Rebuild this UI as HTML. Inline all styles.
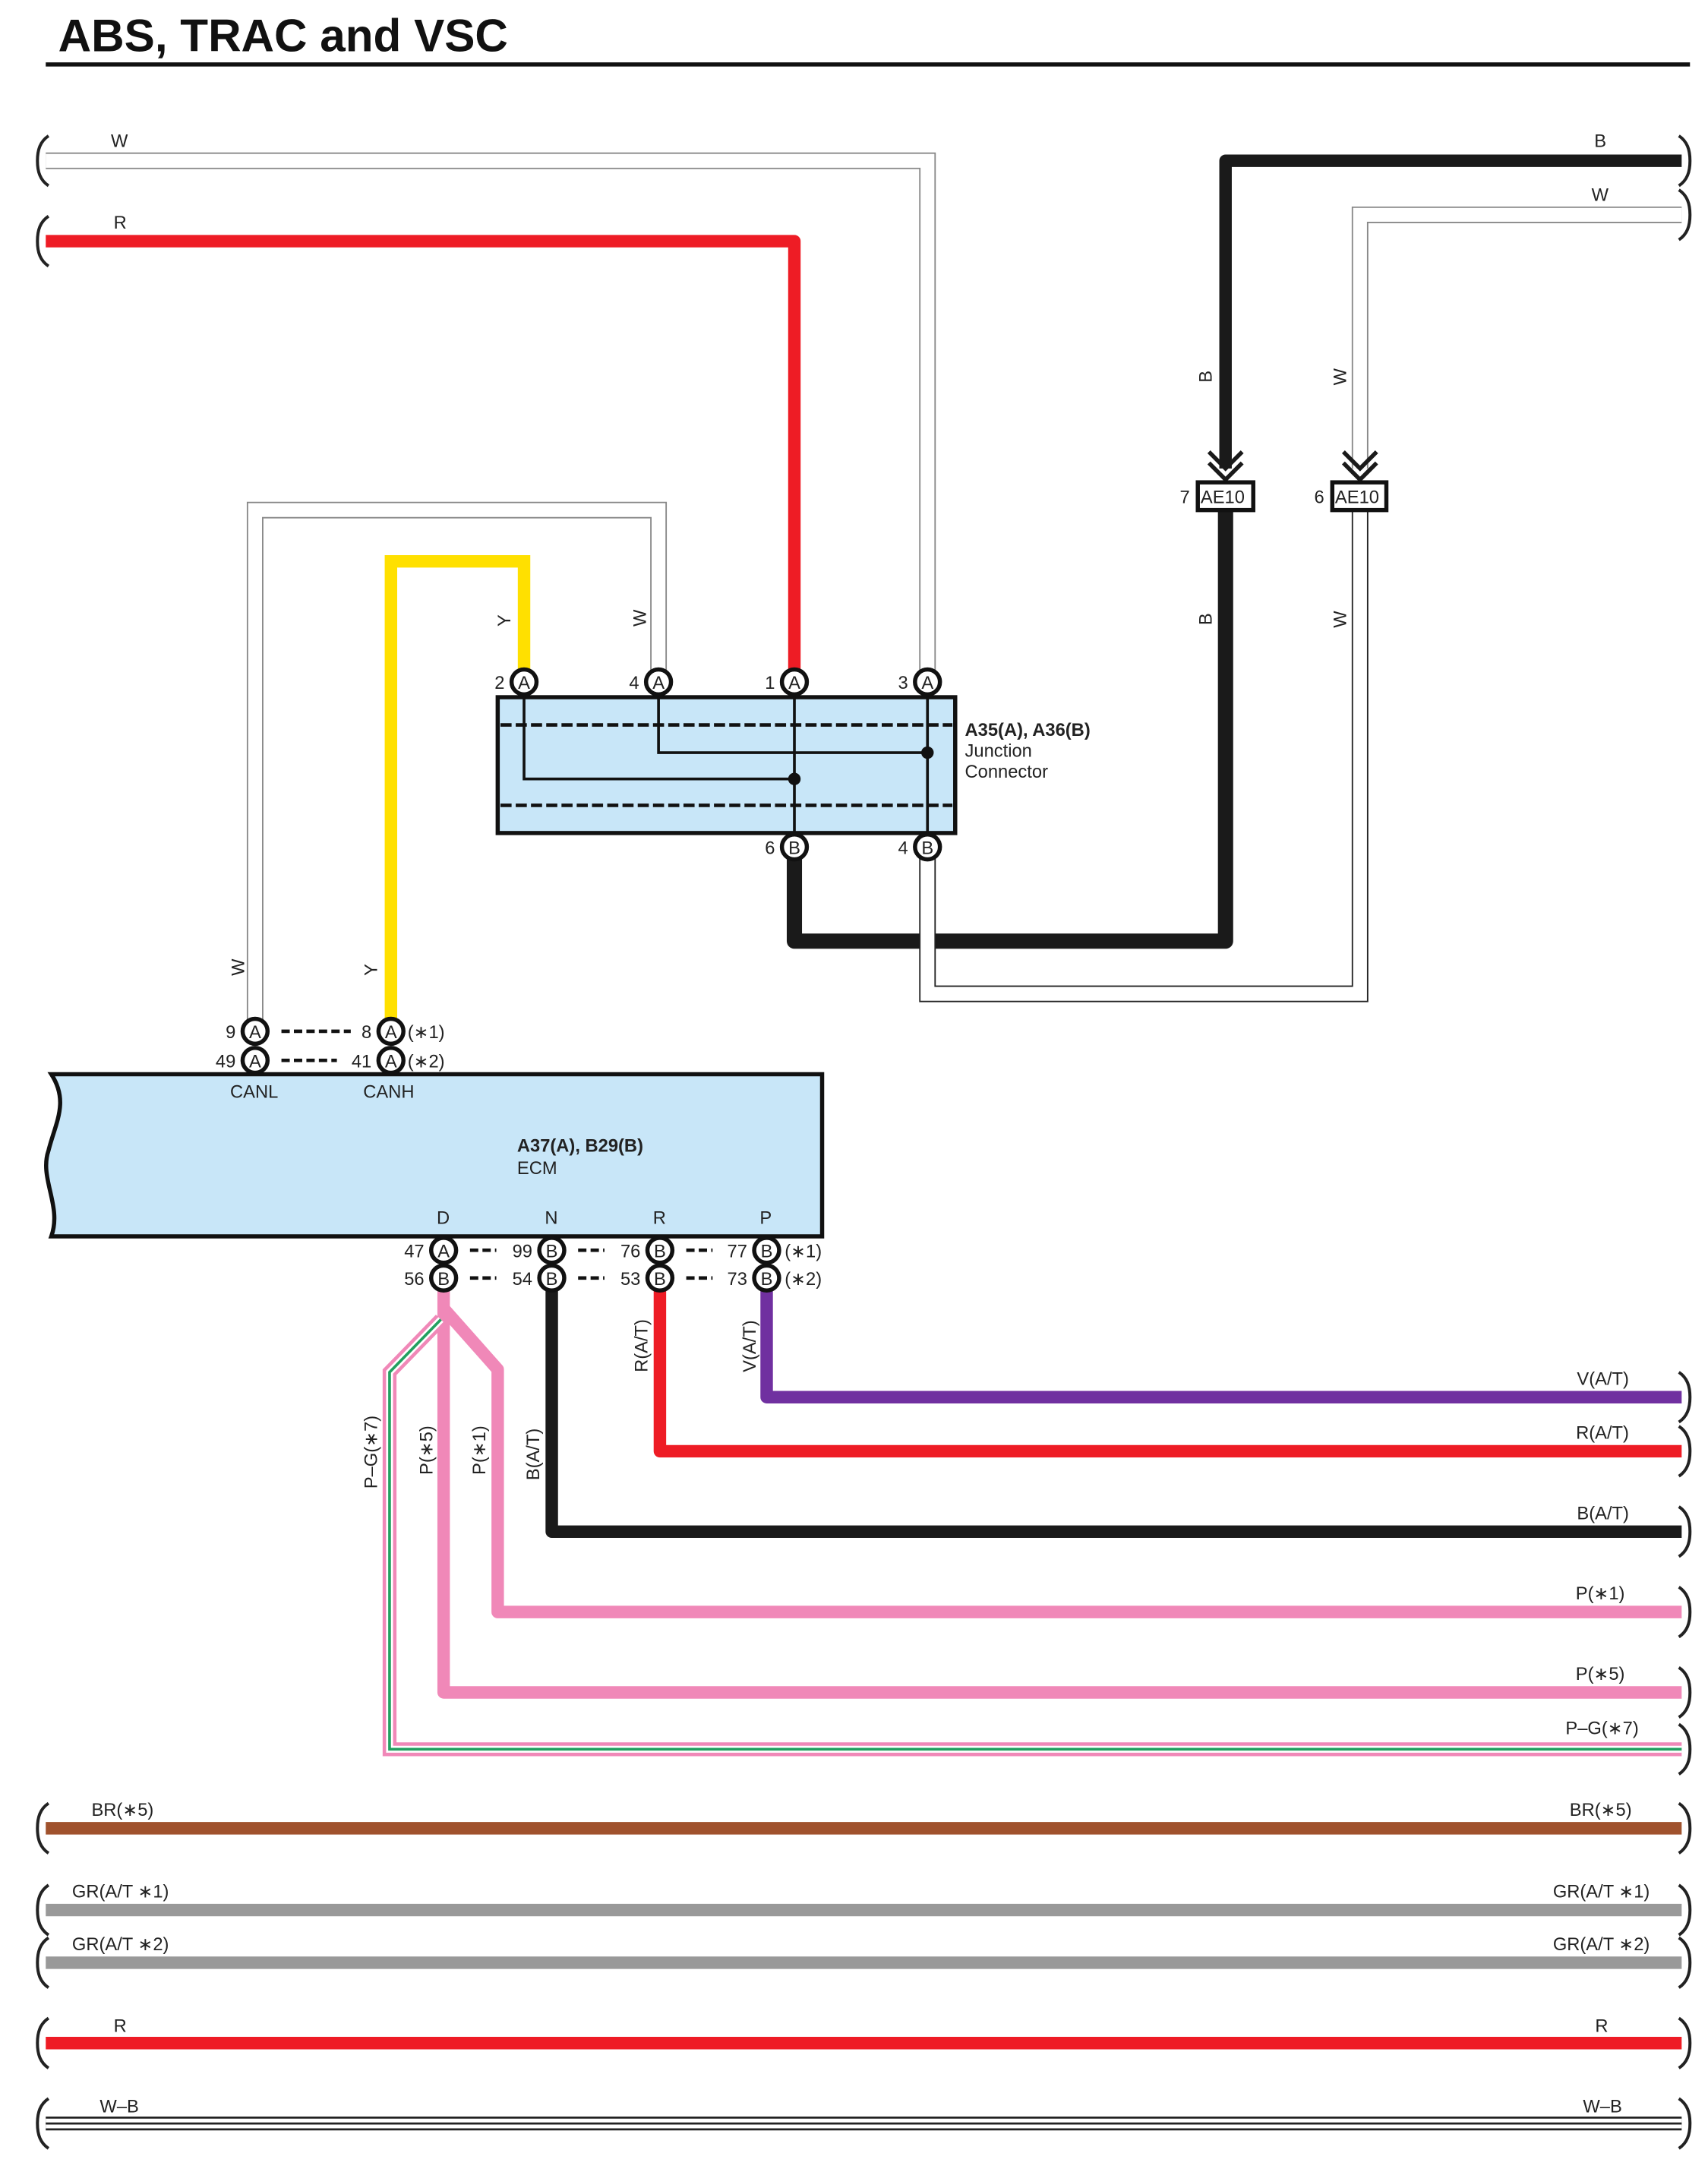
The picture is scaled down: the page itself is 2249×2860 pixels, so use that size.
<!DOCTYPE html>
<html><head><meta charset="utf-8"><style>
html,body{margin:0;padding:0;background:#fff;}
svg{display:block;}
text{font-family:"Liberation Sans",sans-serif;font-size:13px;fill:#222;}
</style></head><body>
<svg width="2249" height="2860" viewBox="0 0 1232 1567" preserveAspectRatio="none" xmlns="http://www.w3.org/2000/svg">
<defs>
<g id="bl"><path d="M2,-18 C-4,-14 -6,-8 -6,0 C-6,8 -4,14 2,18" fill="none" stroke="#222" stroke-width="2.2"/></g>
<g id="br"><path d="M-2,-18 C4,-14 6,-8 6,0 C6,8 4,14 -2,18" fill="none" stroke="#222" stroke-width="2.2"/></g>
</defs>
<text x="42" y="37" style="font-size:33px;font-weight:bold;fill:#111">ABS, TRAC and VSC</text>
<rect x="33" y="45" width="1186" height="3" fill="#111"/>

<path d="M33,116 H669 V492" fill="none" stroke="#888" stroke-width="12"/>
<path d="M33,116 H669 V492" fill="none" stroke="#fff" stroke-width="10"/>
<text x="80" y="106">W</text>
<use href="#bl" x="33" y="116"/>
<path d="M33,174 H573 V492" fill="none" stroke="#ee1c25" stroke-width="9" stroke-linejoin="round"/>
<text x="82" y="165">R</text>
<use href="#bl" x="33" y="174"/>

<path d="M1213,116 H884 V338" fill="none" stroke="#1a1a1a" stroke-width="9" stroke-linejoin="round"/>
<text x="1150" y="106">B</text>
<use href="#br" x="1213" y="116"/>
<path d="M872,326 L884,338 L896,326 M872,334 L884,346 L896,334" fill="none" stroke="#1a1a1a" stroke-width="3"/>
<path d="M1213,155 H981 V338" fill="none" stroke="#888" stroke-width="12"/>
<path d="M1213,155 H981 V338" fill="none" stroke="#fff" stroke-width="10"/>
<text x="1148" y="145">W</text>
<use href="#br" x="1213" y="155"/>
<path d="M969,326 L981,338 L993,326 M969,334 L981,346 L993,334" fill="none" stroke="#1a1a1a" stroke-width="3"/>
<text transform="translate(874,276) rotate(-90)">B</text>
<text transform="translate(971,278) rotate(-90)">W</text>
<text transform="translate(874,451) rotate(-90)">B</text>
<text transform="translate(971,453) rotate(-90)">W</text>

<path d="M884,368 V679 H573 V611" fill="none" stroke="#1a1a1a" stroke-width="11" stroke-linejoin="round"/>
<path d="M981,368 V717 H669 V611" fill="none" stroke="#222" stroke-width="12"/>
<path d="M981,368 V717 H669 V611" fill="none" stroke="#fff" stroke-width="10"/>
<rect x="864" y="348" width="40" height="20" fill="#fff" stroke="#111" stroke-width="3"/>
<text x="866" y="363">AE10</text><text x="851" y="363">7</text>
<rect x="961" y="348" width="39" height="20" fill="#fff" stroke="#111" stroke-width="3"/>
<text x="963" y="363">AE10</text><text x="948" y="363">6</text>

<path d="M475,492 V368 H184 V744" fill="none" stroke="#888" stroke-width="12"/>
<path d="M475,492 V368 H184 V744" fill="none" stroke="#fff" stroke-width="10"/>
<path d="M378,492 V405 H282 V744" fill="none" stroke="#ffe000" stroke-width="9"/>
<text transform="translate(368,452) rotate(-90)">Y</text>
<text transform="translate(466,452) rotate(-90)">W</text>
<text transform="translate(176,704) rotate(-90)">W</text>
<text transform="translate(272,704) rotate(-90)">Y</text>

<rect x="359" y="503" width="330" height="98" fill="#c8e6f8" stroke="#111" stroke-width="3"/>
<line x1="361" y1="523" x2="687" y2="523" stroke="#111" stroke-width="2.5" stroke-dasharray="8,3"/>
<line x1="361" y1="581" x2="687" y2="581" stroke="#111" stroke-width="2.5" stroke-dasharray="8,3"/>
<path d="M378,503 V562 H573 M475,503 V543 H669 M573,503 V601 M669,503 V601" fill="none" stroke="#111" stroke-width="2"/>
<circle cx="573" cy="562" r="4.5" fill="#111"/><circle cx="669" cy="543" r="4.5" fill="#111"/>
<text x="696" y="531" style="font-weight:bold">A35(A), A36(B)</text>
<text x="696" y="546">Junction</text>
<text x="696" y="561">Connector</text>

<path d="M37,775 H593 V892 H37 C45,870 28,850 35,830 C40,810 50,795 37,775 Z" fill="#c8e6f8" stroke="#111" stroke-width="3"/>
<text x="166" y="792">CANL</text><text x="262" y="792">CANH</text>
<text x="373" y="831" style="font-weight:bold">A37(A), B29(B)</text>
<text x="373" y="847">ECM</text>
<text x="315" y="883">D</text><text x="393" y="883">N</text><text x="471" y="883">R</text><text x="548" y="883">P</text>

<path d="M553,922 V1008 H1213" fill="none" stroke="#7030a0" stroke-width="9" stroke-linejoin="round"/>
<path d="M476,922 V1047 H1213" fill="none" stroke="#ee1c25" stroke-width="9" stroke-linejoin="round"/>
<path d="M398,922 V1105 H1213" fill="none" stroke="#1a1a1a" stroke-width="9" stroke-linejoin="round"/>
<path d="M320,944 L359,988 V1163 H1213" fill="none" stroke="#f088b8" stroke-width="9" stroke-linejoin="round"/>
<path d="M320,922 V1221 H1213" fill="none" stroke="#f088b8" stroke-width="9" stroke-linejoin="round"/>
<path d="M318,952 L281,990 V1262 H1213" fill="none" stroke="#f088b8" stroke-width="10"/>
<path d="M318,952 L281,990 V1262 H1213" fill="none" stroke="#fff" stroke-width="5"/>
<path d="M318,952 L281,990 V1262 H1213" fill="none" stroke="#22a060" stroke-width="2"/>
<text transform="translate(467,990) rotate(-90)">R(A/T)</text>
<text transform="translate(545,990) rotate(-90)">V(A/T)</text>
<text transform="translate(272,1074) rotate(-90)">P–G(∗7)</text>
<text transform="translate(312,1064) rotate(-90)">P(∗5)</text>
<text transform="translate(350,1064) rotate(-90)">P(∗1)</text>
<text transform="translate(389,1068) rotate(-90)">B(A/T)</text>
<g text-anchor="end">
<text x="1175" y="999">V(A/T)</text>
<text x="1175" y="1038">R(A/T)</text>
<text x="1175" y="1096">B(A/T)</text>
<text x="1172" y="1154">P(∗1)</text>
<text x="1172" y="1212">P(∗5)</text>
<text x="1182" y="1251">P–G(∗7)</text>
<text x="1177" y="1310">BR(∗5)</text>
<text x="1190" y="1369">GR(A/T ∗1)</text>
<text x="1190" y="1407">GR(A/T ∗2)</text>
<text x="1160" y="1466">R</text>
<text x="1170" y="1524">W–B</text>
</g>
<use href="#br" x="1213" y="1008"/><use href="#br" x="1213" y="1047"/><use href="#br" x="1213" y="1105"/>
<use href="#br" x="1213" y="1163"/><use href="#br" x="1213" y="1221"/><use href="#br" x="1213" y="1262"/>

<line x1="33" y1="1319" x2="1213" y2="1319" stroke="#a0522d" stroke-width="9"/>
<line x1="33" y1="1378" x2="1213" y2="1378" stroke="#999" stroke-width="9"/>
<line x1="33" y1="1416" x2="1213" y2="1416" stroke="#999" stroke-width="9"/>
<line x1="33" y1="1474" x2="1213" y2="1474" stroke="#ee1c25" stroke-width="9"/>
<line x1="33" y1="1532" x2="1213" y2="1532" stroke="#222" stroke-width="10"/>
<line x1="33" y1="1532" x2="1213" y2="1532" stroke="#fff" stroke-width="7"/>
<line x1="33" y1="1532" x2="1213" y2="1532" stroke="#222" stroke-width="1.5"/>
<text x="66" y="1310">BR(∗5)</text>
<text x="52" y="1369">GR(A/T ∗1)</text>
<text x="52" y="1407">GR(A/T ∗2)</text>
<text x="82" y="1466">R</text>
<text x="72" y="1524">W–B</text>
<use href="#bl" x="33" y="1319"/><use href="#bl" x="33" y="1378"/><use href="#bl" x="33" y="1416"/><use href="#bl" x="33" y="1474"/><use href="#bl" x="33" y="1532"/>
<use href="#br" x="1213" y="1319"/><use href="#br" x="1213" y="1378"/><use href="#br" x="1213" y="1416"/><use href="#br" x="1213" y="1474"/><use href="#br" x="1213" y="1532"/>

<g stroke="#111" stroke-width="3" fill="#fff">
<circle cx="378" cy="492" r="9"/><circle cx="475" cy="492" r="9"/><circle cx="573" cy="492" r="9"/><circle cx="669" cy="492" r="9"/>
<circle cx="573" cy="611" r="9"/><circle cx="669" cy="611" r="9"/>
<circle cx="184" cy="744" r="9"/><circle cx="282" cy="744" r="9"/><circle cx="184" cy="765" r="9"/><circle cx="282" cy="765" r="9"/>
<circle cx="320" cy="902" r="9"/><circle cx="398" cy="902" r="9"/><circle cx="476" cy="902" r="9"/><circle cx="553" cy="902" r="9"/>
<circle cx="320" cy="922" r="9"/><circle cx="398" cy="922" r="9"/><circle cx="476" cy="922" r="9"/><circle cx="553" cy="922" r="9"/>
</g>
<g text-anchor="middle" style="font-size:12px">
<text x="378" y="497">A</text><text x="475" y="497">A</text><text x="573" y="497">A</text><text x="669" y="497">A</text>
<text x="573" y="616">B</text><text x="669" y="616">B</text>
<text x="184" y="749">A</text><text x="282" y="749">A</text><text x="184" y="770">A</text><text x="282" y="770">A</text>
<text x="320" y="907">A</text><text x="398" y="907">B</text><text x="476" y="907">B</text><text x="553" y="907">B</text>
<text x="320" y="927">B</text><text x="398" y="927">B</text><text x="476" y="927">B</text><text x="553" y="927">B</text>
</g>
<g text-anchor="end">
<text x="364" y="497">2</text><text x="461" y="497">4</text><text x="559" y="497">1</text><text x="655" y="497">3</text>
<text x="559" y="616">6</text><text x="655" y="616">4</text>
<text x="170" y="749">9</text><text x="268" y="749">8</text><text x="170" y="770">49</text><text x="268" y="770">41</text>
<text x="306" y="907">47</text><text x="384" y="907">99</text><text x="462" y="907">76</text><text x="539" y="907">77</text>
<text x="306" y="927">56</text><text x="384" y="927">54</text><text x="462" y="927">53</text><text x="539" y="927">73</text>
</g>
<text x="294" y="749">(∗1)</text><text x="294" y="770">(∗2)</text>
<text x="566" y="907">(∗1)</text><text x="566" y="927">(∗2)</text>
<g stroke="#111" stroke-width="2.5" stroke-dasharray="6,3">
<line x1="203" y1="744" x2="253" y2="744"/><line x1="203" y1="765" x2="243" y2="765"/>
<line x1="339" y1="902" x2="358" y2="902"/><line x1="417" y1="902" x2="436" y2="902"/><line x1="495" y1="902" x2="514" y2="902"/>
<line x1="339" y1="922" x2="358" y2="922"/><line x1="417" y1="922" x2="436" y2="922"/><line x1="495" y1="922" x2="514" y2="922"/>
</g>
</svg>
</body></html>
